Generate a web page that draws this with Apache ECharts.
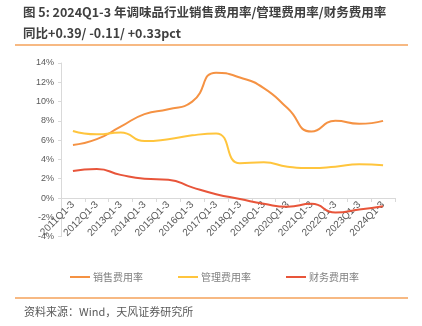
<!DOCTYPE html>
<html><head><meta charset="utf-8">
<script src="https://cdn.jsdelivr.net/npm/echarts@6/dist/echarts.min.js"></script>
<style>html,body{margin:0;padding:0;background:#fff}#c{width:422px;height:326px}</style>
</head><body><div id="c"></div>
<script>
const categories = ['2011Q1-3','2012Q1-3','2013Q1-3','2014Q1-3','2015Q1-3','2016Q1-3','2017Q1-3','2018Q1-3','2019Q1-3','2020Q1-3','2021Q1-3','2022Q1-3','2023Q1-3','2024Q1-3'];
const salesRate = [5.5, 6.1, 7.4, 8.7, 9.2, 10.0, 13.0, 12.5, 11.4, 9.3, 6.9, 8.0, 7.7, 8.0];
const adminRate = [6.95, 6.6, 6.8, 5.9, 6.1, 6.5, 6.7, 3.6, 3.7, 3.25, 3.1, 3.25, 3.5, 3.4];
const financeRate = [2.8, 3.0, 2.4, 2.0, 1.9, 1.1, 0.4, -0.1, -0.6, -0.9, -0.6, -1.5, -1.2, -0.85];
const yTicks = {min: -4, max: 14, interval: 2};
const seriesNames = ['销售费用率', '管理费用率', '财务费用率'];
const titleLines = ['图 5: 2024Q1-3 年调味品行业销售费用率/管理费用率/财务费用率', '同比+0.39/ -0.11/ +0.33pct'];
const sourceText = '资料来源：Wind，天风证券研究所';

const FONT = '"Liberation Sans", "Noto Sans CJK SC", sans-serif';
const CJK = '"Noto Sans CJK SC", "Liberation Sans", sans-serif';
const colors = ['#F59243', '#FFC53D', '#E8553A'];

const gridTop = 63, gridBottomPx = 236.6;
const zeroOffset = (gridBottomPx - gridTop) * (0 - yTicks.min) / (yTicks.max - yTicks.min);

const chart = echarts.init(document.getElementById('c'), null, {renderer: 'canvas'});
chart.setOption({
  animation: false,
  color: colors,
  grid: {left: 61, right: 27, top: gridTop, bottom: 326 - gridBottomPx, containLabel: false},
  legend: {
    data: seriesNames, left: 70, top: 272, padding: 0,
    icon: 'rect', itemWidth: 20, itemHeight: 2, itemGap: 35,
    textStyle: {fontSize: 10, color: '#808080', fontFamily: CJK, padding: [0, 0, 0, -2]}
  },
  xAxis: {
    type: 'category', data: categories, position: 'bottom', offset: -zeroOffset,
    axisLine: {onZero: false, lineStyle: {color: '#d9d9d9'}},
    axisTick: {show: true, length: 4, lineStyle: {color: '#d9d9d9'}},
    axisLabel: {rotate: 45, fontSize: 10, color: '#595959', fontFamily: FONT, margin: 5, interval: 0}
  },
  yAxis: {
    type: 'value', min: yTicks.min, max: yTicks.max, interval: yTicks.interval,
    axisLine: {show: true, lineStyle: {color: '#d9d9d9'}},
    axisTick: {show: true, length: 3, lineStyle: {color: '#d9d9d9'}},
    splitLine: {show: false},
    axisLabel: {formatter: '{value}%', fontSize: 9, color: '#595959', fontFamily: FONT, margin: 7}
  },
  series: [
    {name: seriesNames[0], type: 'line', data: salesRate, smooth: 0.55, showSymbol: false, lineStyle: {width: 2}},
    {name: seriesNames[1], type: 'line', data: adminRate, smooth: 0.55, showSymbol: false, lineStyle: {width: 2}},
    {name: seriesNames[2], type: 'line', data: financeRate, smooth: 0.55, showSymbol: false, lineStyle: {width: 2}}
  ],
  graphic: [
    {type: 'text', x: 23, y: 12, style: {text: titleLines[0], font: 'bold 12.5px ' + CJK, fill: '#404040', verticalAlign: 'middle'}},
    {type: 'text', x: 23, y: 33, style: {text: titleLines[1], font: 'bold 12.5px ' + CJK, fill: '#404040', verticalAlign: 'middle'}},
    {type: 'line', shape: {x1: 15, y1: 45, x2: 408, y2: 45}, style: {stroke: '#F5A25A', lineWidth: 1.5}},
    {type: 'line', shape: {x1: 15, y1: 298, x2: 408, y2: 298}, style: {stroke: '#F5A25A', lineWidth: 1.5}},
    {type: 'text', x: 24, y: 312, style: {text: sourceText, font: '11px ' + CJK, fill: '#595959', verticalAlign: 'middle'}}
  ]
});
</script></body></html>
